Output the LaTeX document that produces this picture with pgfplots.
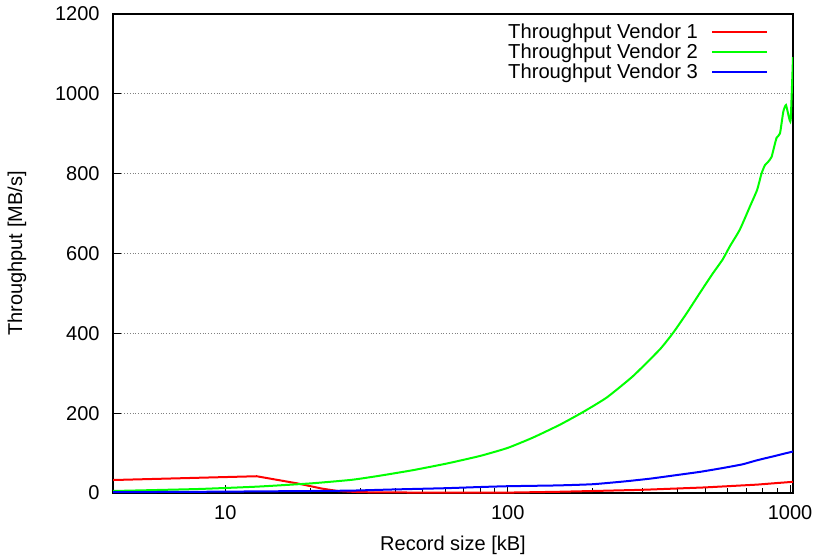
\documentclass[border=0pt]{standalone}
\usepackage{fontspec}
\setmainfont{Liberation Sans}
\usepackage{pgfplots}
\pgfplotsset{compat=1.18}
\begin{document}
\begin{tikzpicture}
\begin{axis}[
  xmode=log, scale only axis, width=340pt, height=239.5pt,
  xmin=4, xmax=1024, ymin=0, ymax=1200,
  xtick={10,100,1000}, xticklabels={10,100,1000},
  ytick={0,200,...,1200},
  scaled y ticks=false,
  /pgf/number format/1000 sep={},
  /pgf/number format/assume math mode=true,
  tick align=inside, xtick pos=left, ytick pos=left,
  ymajorgrids, grid style={densely dotted, gray, line width=0.5pt},
  axis line style={line width=0.6pt},
  major tick length=4pt, minor tick length=2.5pt,
  tick style={black, line width=0.5pt},
  yticklabel style={xshift=-3.2pt},
  xticklabel style={yshift=-2.7pt},
  xlabel={Record size [kB]}, ylabel={Throughput [MB/s]},
  every axis x label/.style={at={(axis description cs:0.5,-0.1086)}, anchor=center},
  every axis y label/.style={at={(axis description cs:-0.1412,0.5)}, rotate=90, anchor=center},
  legend style={draw=none, fill=none, at={(rel axis cs:1,1)}, anchor=north east,
    xshift=-12.5pt, yshift=-4.85pt, inner sep=0pt, outer sep=0pt,
    row sep=0pt, column sep=6.5pt,
    nodes={inner sep=0pt, text height=7.5pt, text depth=2.5pt, font=\fontsize{10.1}{12}\selectfont}},
  legend cell align=right, legend plot pos=right,
  legend image code/.code={\draw[#1, line width=1pt] (0pt,1pt) -- (27.5pt,1pt);},
]
\addplot[color=red, line width=1pt, no markers] coordinates {
(4,32.5) (12.9,42) (18,24) (22,11) (25,5) (30,2) (50,1) (100,1) (150,3) (200,5) (300,8) (388,11) (500,14) (600,17) (764,21) (900,25) (1024,28)
};
\addlegendentry{Throughput Vendor 1}
\addplot[color={rgb,255:red,0;green,255;blue,0}, line width=1pt, no markers, smooth, tension=0.3] coordinates {
(4,5) (8,10) (13,16) (20,24) (28,33) (35,43) (46,57) (61,74) (80,93) (100,113) (123,139) (153,171) (185,203) (224,239) (278,293) (346,360) (386,402) (430,450) (480,502) (530,548) (577,585) (612,618) (664,660) (721,718) (764,759) (792,800) (814,821) (837,830) (860,842) (880,870) (896,890) (921,901) (946,955) (967,972) (990,942) (1005,935) (1024,1092)
};
\addlegendentry{Throughput Vendor 2}
\addplot[color=blue, line width=1pt, no markers, smooth, tension=0.3] coordinates {
(4,2) (8,3) (13,4) (20,5) (28,6) (40,9) (60,12) (80,15) (100,17) (150,19) (200,22) (259,29) (320,36) (388,44) (480,53) (582,63) (680,72) (764,82) (874,92) (1024,104)
};
\addlegendentry{Throughput Vendor 3}
\end{axis}
\pgfresetboundingbox
\path ([shift={(-56.5pt,-31.5pt)}]current axis.south west) rectangle ([shift={(12.5pt,7pt)}]current axis.north east);
\end{tikzpicture}
\end{document}
